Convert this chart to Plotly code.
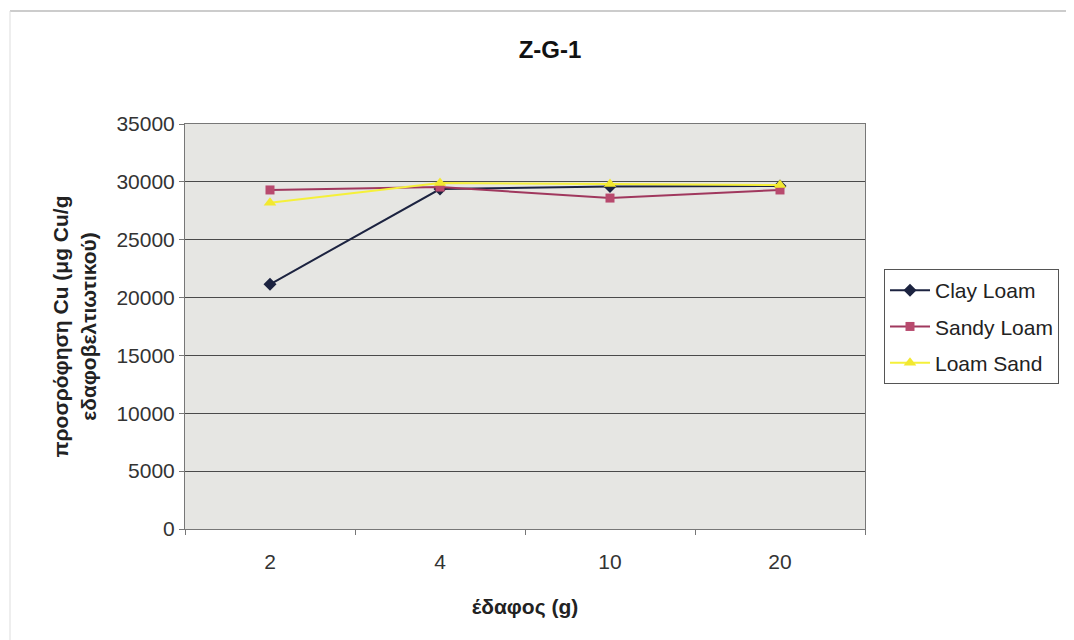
import plotly.graph_objects as go

categories = ["2", "4", "10", "20"]
clay_loam = [21150, 29380, 29600, 29650]
sandy_loam = [29300, 29550, 28600, 29300]
loam_sand = [28200, 29900, 29820, 29720]
y_ticks = [0, 5000, 10000, 15000, 20000, 25000, 30000, 35000]
y_tick_labels = ["0", "5000", "10000", "15000", "20000", "25000", "30000", "35000"]

# page body has an 8px margin; compensate so the plot lands where the reference has it
OFF = 8
W, H = 1074 - OFF, 640 - OFF
PL, PR, PT, PB = 185, 865, 124, 529  # plot area in screen pixels
PW, PH = PR - PL, PB - PT

def px(x):
    return (x - PL) / PW

def py(y):
    return (PB - y) / PH

fig = go.Figure()
fig.add_trace(go.Scatter(x=categories, y=clay_loam, name="Clay Loam", mode="lines+markers",
                         legendgroup="a",
                         line=dict(color="#1c2340", width=2),
                         marker=dict(symbol="diamond", size=10, color="#1c2340")))
fig.add_trace(go.Scatter(x=categories, y=sandy_loam, name="Sandy Loam", mode="lines+markers",
                         legendgroup="b",
                         line=dict(color="#a0385e", width=2),
                         marker=dict(symbol="square", size=9, color="#b84a6e")))
fig.add_trace(go.Scatter(x=categories, y=loam_sand, name="Loam Sand", mode="lines+markers",
                         legendgroup="c",
                         line=dict(color="#f5f03a", width=2),
                         marker=dict(symbol="triangle-up", size=11, color="#f2e830")))

fig.update_layout(
    width=W, height=H,
    margin=dict(l=PL - OFF, r=W - (PR - OFF), t=PT - OFF, b=H - (PB - OFF), autoexpand=False),
    paper_bgcolor="white",
    plot_bgcolor="#e6e6e3",
    font=dict(family="Liberation Sans, Arial, sans-serif", color="#222222"),
    title=dict(text="<b>Z-G-1</b>", x=(550 - OFF) / W, xanchor="center", y=1 - (50 - OFF) / H,
               yanchor="middle", font=dict(size=24, color="#111111")),
    xaxis=dict(type="category", range=[-0.5, 3.5], showgrid=False, showline=True,
               linecolor="#777777", linewidth=1,
               ticks="outside", ticklen=5, tickcolor="#777777", tickson="boundaries",
               ticklabelstandoff=14,
               tickfont=dict(size=21, color="#333333"), mirror=True,
               title=dict(text="<b>έδαφος (g)</b>", font=dict(size=21, color="#222222"), standoff=27)),
    yaxis=dict(range=[0, 35000], tickvals=y_ticks, ticktext=y_tick_labels, showgrid=True,
               gridcolor="#4a4a4a", gridwidth=1,
               showline=True, linecolor="#777777", linewidth=1, ticks="outside", ticklen=5,
               tickcolor="#777777", tickfont=dict(size=21, color="#333333"), mirror=True,
               zeroline=False,
               title=dict(text="<b>προσρόφηση Cu (μg Cu/g<br>εδαφοβελτιωτικού)</b>",
                          font=dict(size=21, color="#222222"), standoff=14)),
    legend=dict(x=px(884), y=py(269), xanchor="left", yanchor="top",
                bordercolor="#555555", borderwidth=1, bgcolor="white",
                font=dict(size=21, color="#222222"), tracegroupgap=6, itemwidth=40),
    shapes=[
        dict(type="line", xref="paper", yref="paper", x0=px(10), x1=px(1074),
             y0=py(11), y1=py(11), line=dict(color="#999999", width=1)),
        dict(type="line", xref="paper", yref="paper", x0=px(10), x1=px(10),
             y0=py(11), y1=py(640), line=dict(color="#dddddd", width=1)),
    ],
)
fig.write_html("out.html")
